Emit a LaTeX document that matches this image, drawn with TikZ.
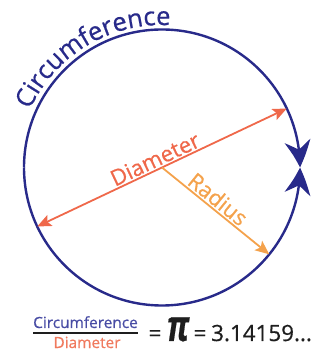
\documentclass[tikz,border=0pt]{standalone}
\usepackage{fontspec}
\setmainfont{Open Sans}[FakeBold=0.6]
\newfontfamily\pifont{Open Sans}[FakeBold=0.6]
\usetikzlibrary{arrows.meta,bending,decorations.text}
\definecolor{navy}{RGB}{40,42,138}
\definecolor{coral}{RGB}{239,104,74}
\definecolor{amber}{RGB}{244,162,76}
\definecolor{numblue}{RGB}{72,76,164}
\definecolor{dencoral}{RGB}{240,122,94}
\definecolor{ink}{RGB}{30,30,30}
\tikzset{
  circline/.style={draw=navy, line width=2.4pt},
  bigtip/.style={-{Stealth[length=27pt,width=26pt,inset=9pt,bend]}},
  diamline/.style={draw=coral, line width=1.8pt, {Stealth[length=14pt,width=12pt,inset=3pt]}-{Stealth[length=14pt,width=12pt,inset=3pt]}},
  radline/.style={draw=amber, line width=1.8pt, -{Stealth[length=14pt,width=12pt,inset=3pt]}},
  lbl/.style={font=\fontsize{22}{22}\selectfont, inner sep=1.5pt},
  fracfont/.style={font=\fontsize{15.4}{16}\selectfont, inner sep=0pt},
  valfont/.style={font=\fontsize{22.4}{24}\selectfont, inner sep=0pt, text=ink}
}
\begin{document}
\begin{tikzpicture}[x=1pt,y=1pt]
\useasboundingbox (0,0) rectangle (320,352);
\coordinate (O) at (162,184.5);
\def\R{138}
% circle points
\coordinate (cL) at ([shift={(180:\R)}]O);
\coordinate (cR) at ([shift={(0:\R)}]O);
\coordinate (dL) at ([shift={(205.3:\R)}]O);
\coordinate (dR) at ([shift={(25.3:\R)}]O);
\coordinate (rE) at ([shift={(-39:\R)}]O);
\coordinate (tS) at ([shift={(175:145)}]O);
% circumference arcs with arrows meeting at the right
\draw[circline, bigtip] (cL) arc[start angle=180, end angle=0, radius=\R];
\draw[circline, bigtip] (cL) arc[start angle=180, end angle=360, radius=\R];
% circumference text
\path[decorate, decoration={text along path, text color=navy, text align=center,
  text={|\fontsize{25.5}{25.5}\selectfont|Circumference}}]
  (tS) arc[start angle=174, end angle=68, radius=145];
% diameter
\draw[diamline] (dL) -- node[lbl, pos=0.49, sloped, above, text=coral] (dlabel) {Diameter} (dR);
% radius
\draw[radline] (O) -- node[lbl, pos=0.46, sloped, above, text=amber] (rlabel) {Radius} (rE);
% formula
\node[fracfont, anchor=base, text=numblue] (num) at (85.5,24) {Circumference};
\node[fracfont, anchor=base, text=dencoral] (den) at (87,4) {Diameter};
\coordinate (fl) at (33,19);
\coordinate (fr) at (138,19);
\draw[ink, line width=1.4pt] (fl) -- (fr);
\node[valfont, anchor=base] (eqa) at (155,11) {=};
\node[font=\fontsize{31}{31}\pifont\bfseries\itshape, inner sep=0pt, anchor=base, text=ink] (pi) at (178,11) {\scalebox{1}[1.4]{π}};
\node[valfont, anchor=base] (eqb) at (200,11) {=};
\node[valfont, anchor=base west] (val) at (211,11) {3.14159...};
\end{tikzpicture}
\end{document}
